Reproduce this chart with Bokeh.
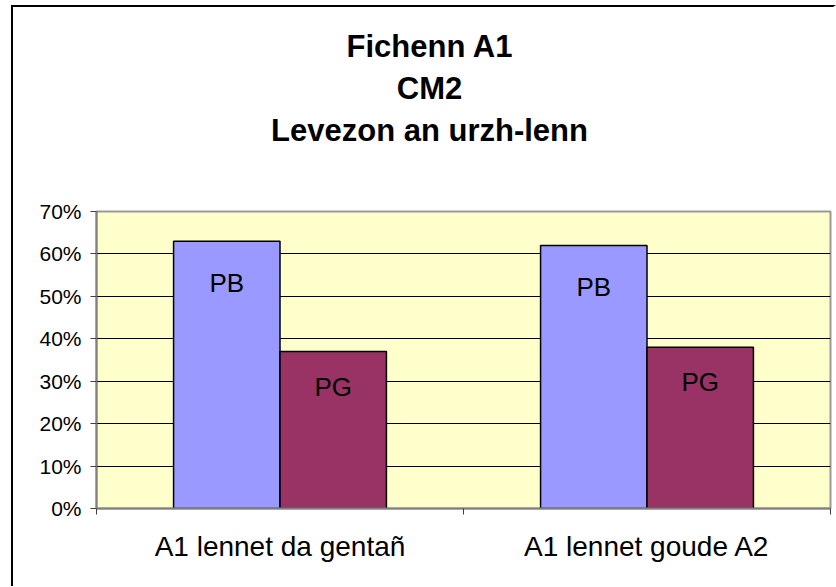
from bokeh.plotting import figure
from bokeh.layouts import column
from bokeh.models import (Range1d, LinearAxis, FixedTicker, NumeralTickFormatter,
                          ColumnDataSource, Div)
from bokeh.transform import dodge
from bokeh.core.properties import value
from bokeh.embed import file_html
from bokeh.resources import INLINE

# ---- data ----
title_lines = ["Fichenn A1", "CM2", "Levezon an urzh-lenn"]
categories = ["A1 lennet da gentañ", "A1 lennet goude A2"]
series_names = ["PB", "PG"]
pb_values = [0.63, 0.62]
pg_values = [0.37, 0.38]
y_ticks = [0.0, 0.1, 0.2, 0.3, 0.4, 0.5, 0.6, 0.7]

FONT = "Liberation Sans"
n = len(categories)
centers = [i + 0.5 for i in range(n)]
src = ColumnDataSource(dict(pos=centers, cat=categories, pb=pb_values, pg=pg_values,
                            pb_lab=[series_names[0]] * n,
                            pg_lab=[series_names[1]] * n))

W = 820
TITLE_H = 150
PLOT_H = 429

title_html = ('<div style="display:block; box-sizing:border-box; width:%dpx; '
              'padding-top:19px; padding-left:13px; text-align:center; '
              'font-family:\'Liberation Sans\', Arial, sans-serif; font-weight:bold; '
              'font-size:31px; line-height:42px; color:black;">' % W
              + "<br>".join(title_lines) + '</div>')
title_div = Div(text=title_html, width=W, height=TITLE_H, margin=0)

p = figure(width=W, height=PLOT_H, x_range=Range1d(0, n),
           y_range=Range1d(0, y_ticks[-1]),
           output_backend="svg", toolbar_location=None, margin=0,
           min_border_left=83, min_border_right=3, min_border_top=54, min_border_bottom=78,
           background_fill_color="#FFFFCC", border_fill_color="white",
           outline_line_color="#999999", outline_line_width=2)

bw = 0.29
p.vbar(x=dodge("pos", -bw / 2), top="pb", width=bw, source=src,
       fill_color="#9999FF", line_color="black", line_width=1.5)
p.vbar(x=dodge("pos", bw / 2), top="pg", width=bw, source=src,
       fill_color="#993366", line_color="black", line_width=1.5)

p.text(x=dodge("pos", -bw / 2), y="pb", text="pb_lab", source=src,
       text_font=value(FONT), text_font_size="26px", text_align="center",
       text_baseline="alphabetic", y_offset=42, text_color="black")
p.text(x=dodge("pos", bw / 2), y="pg", text="pg_lab", source=src,
       text_font=value(FONT), text_font_size="26px", text_align="center",
       text_baseline="alphabetic", y_offset=35, text_color="black")

# y axis
yax = p.yaxis[0]
yax.ticker = FixedTicker(ticks=y_ticks)
yax.formatter = NumeralTickFormatter(format="0%")
yax.axis_line_color = "#808080"
yax.axis_line_width = 2
yax.major_tick_in = 0
yax.major_tick_out = 6
yax.major_tick_line_color = "#404040"
yax.minor_tick_line_color = None
yax.major_label_text_font = FONT
yax.major_label_text_font_size = "21px"
yax.major_label_text_color = "black"
yax.major_label_standoff = 9

p.ygrid.ticker = FixedTicker(ticks=y_ticks)
p.ygrid.grid_line_color = "black"
p.ygrid.grid_line_width = 1
p.xgrid.grid_line_color = None

# x axis 1: ticks on category boundaries, no labels
xax = p.xaxis[0]
xax.ticker = FixedTicker(ticks=list(range(n + 1)))
xax.axis_line_color = "#808080"
xax.axis_line_width = 2
xax.major_tick_in = 0
xax.major_tick_out = 6
xax.major_tick_line_color = "#404040"
xax.minor_tick_line_color = None
xax.major_label_overrides = {t: "" for t in range(n + 1)}
xax.major_label_text_font_size = "1px"
xax.major_label_standoff = 0

# x axis 2: category names at category centres
cat_axis = LinearAxis(ticker=FixedTicker(ticks=centers),
                      major_label_overrides={c: name for c, name in zip(centers, categories)},
                      axis_line_color=None, major_tick_line_color=None,
                      minor_tick_line_color=None, major_tick_in=0, major_tick_out=0,
                      major_label_text_font=FONT, major_label_text_font_size="28px",
                      major_label_text_color="black", major_label_standoff=16)
p.add_layout(cat_axis, "below")

layout = column(title_div, p, spacing=0,
                styles={"margin-left": "11px", "margin-top": "5px",
                        "border-left": "2px solid black", "border-top": "2px solid black",
                        "border-right": "3px solid white",
                        "background-color": "white"})

open("out.html", "w").write(file_html(layout, INLINE))
